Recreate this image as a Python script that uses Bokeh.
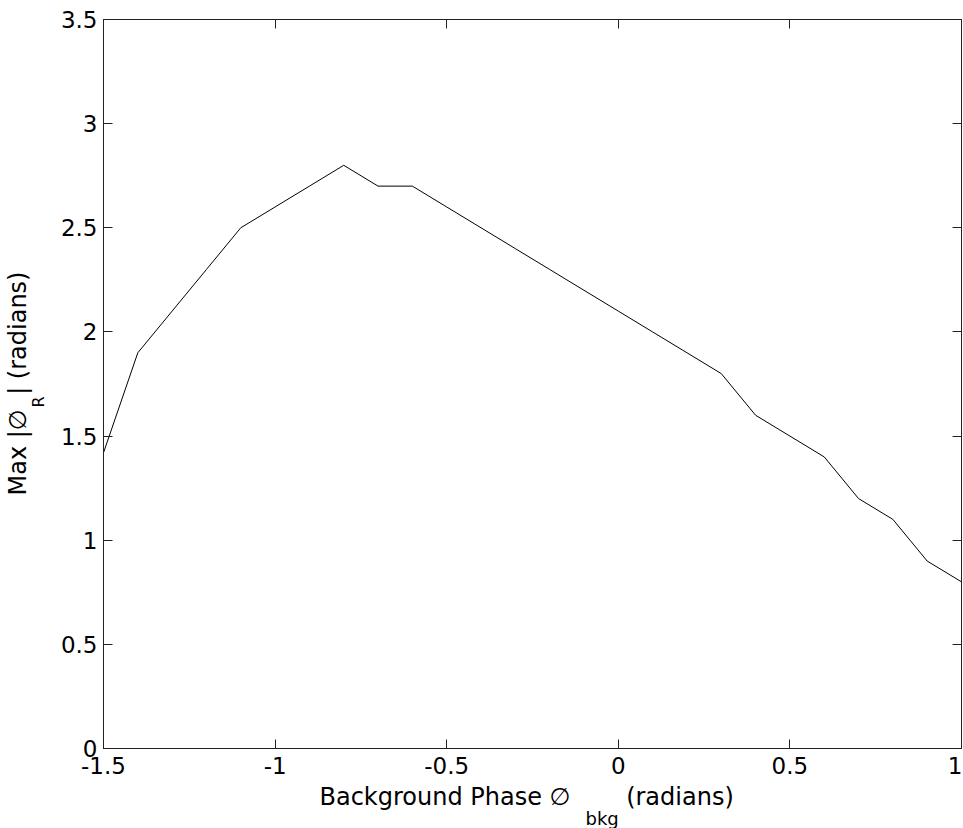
from bokeh.plotting import figure
from bokeh.models import Range1d, LinearAxis, FixedTicker, Title
from bokeh.embed import file_html
from bokeh.resources import INLINE

# Data
phase_bkg = [-1.5, -1.4, -1.3, -1.2, -1.1, -1.0, -0.9, -0.8, -0.7, -0.6,
             -0.5, -0.4, -0.3, -0.2, -0.1, 0.0, 0.1, 0.2, 0.3, 0.4,
             0.5, 0.6, 0.7, 0.8, 0.9, 1.0]
max_phase_r = [1.42, 1.9, 2.1, 2.3, 2.5, 2.6, 2.7, 2.8, 2.7, 2.7,
               2.6, 2.5, 2.4, 2.3, 2.2, 2.1, 2.0, 1.9, 1.8, 1.6,
               1.5, 1.4, 1.2, 1.1, 0.9, 0.8]
x_ticks = [-1.5, -1, -0.5, 0, 0.5, 1]
y_ticks = [0, 0.5, 1, 1.5, 2, 2.5, 3, 3.5]
x_tick_labels = ["-1.5", "-1", "-0.5", "0", "0.5", "1"]
y_tick_labels = ["0", "0.5", "1", "1.5", "2", "2.5", "3", "3.5"]

FONT = "DejaVu Sans"
FS = "23px"
LFS = "24px"

p = figure(width=962, height=828, output_backend="svg", toolbar_location=None,
           x_range=Range1d(-1.5, 1.0), y_range=Range1d(0, 3.5),
           min_border_left=103, min_border_right=1, min_border_top=19,
           min_border_bottom=80)
p.grid.visible = False
p.outline_line_color = "#222222"
p.outline_line_width = 1

p.line(phase_bkg, max_phase_r, line_color="black", line_width=1)

def style_axis(ax, ticks, labels=None):
    ax.ticker = FixedTicker(ticks=ticks)
    ax.axis_line_color = "#222222"
    ax.major_tick_line_color = "#222222"
    ax.major_tick_in = 9
    ax.major_tick_out = 0
    ax.minor_tick_line_color = None
    ax.major_label_text_font = FONT
    ax.major_label_text_color = "black"
    ax.major_label_text_font_size = FS
    if labels is not None:
        ax.major_label_overrides = dict(zip(ticks, labels))
    else:
        ax.major_label_overrides = {t: "" for t in ticks}
        ax.major_label_text_font_size = "8px"
        ax.major_label_standoff = 0

style_axis(p.xaxis[0], x_ticks, x_tick_labels)
style_axis(p.yaxis[0], y_ticks, y_tick_labels)
p.xaxis.major_label_standoff = 8
p.yaxis.major_label_standoff = 6

top_ax = LinearAxis()
right_ax = LinearAxis()
style_axis(top_ax, x_ticks)
style_axis(right_ax, y_ticks)
p.add_layout(top_ax, "above")
p.add_layout(right_ax, "right")

def title(text, side, offset, standoff, size=LFS):
    t = Title(text=text, align="left", offset=offset, standoff=standoff,
              text_font=FONT, text_font_size=size, text_font_style="normal",
              text_color="black")
    p.add_layout(t, side)

# x-axis label: main text row, then subscript row just under it
title("Background Phase \u2205\u2003\u2003 (radians)", "below", 216, 9)
title("bkg", "below", 482, -19, size="18px")

# y-axis label: subscript row next to the axis, then main text row
title("R", "left", 341, 20, size="16px")
title("Max |\u2205\u2002\u200a| (radians)", "left", 253, -31)

open("out.html", "w").write(file_html(p, INLINE))
